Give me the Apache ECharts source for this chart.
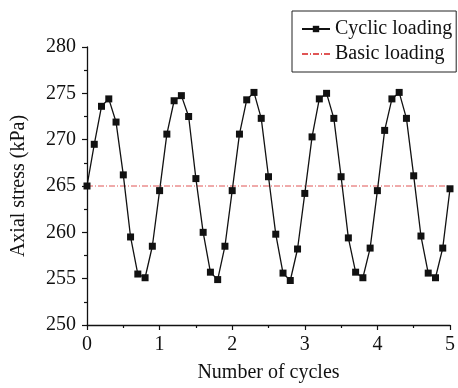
<!DOCTYPE html>
<html>
<head>
<meta charset="utf-8">
<script src="https://cdn.jsdelivr.net/npm/echarts@6/dist/echarts.min.js"></script>
<style>html,body{margin:0;padding:0;background:#fff;}#c{width:458px;height:388px;}</style>
</head>
<body>
<div id="c"></div>
<script>
var cycles = [0.0,0.1,0.2,0.3,0.4,0.5,0.6,0.7,0.8,0.9,
              1.0,1.1,1.2,1.3,1.4,1.5,1.6,1.7,1.8,1.9,
              2.0,2.1,2.2,2.3,2.4,2.5,2.6,2.7,2.8,2.9,
              3.0,3.1,3.2,3.3,3.4,3.5,3.6,3.7,3.8,3.9,
              4.0,4.1,4.2,4.3,4.4,4.5,4.6,4.7,4.8,4.9,5.0];
var cyclicStress = [265.0,269.5,273.6,274.4,271.9,266.2,259.5,255.5,255.1,258.5,
                    264.5,270.6,274.2,274.75,272.5,265.8,260.0,255.7,254.9,258.5,
                    264.5,270.6,274.3,275.1,272.3,266.0,259.8,255.6,254.8,258.2,
                    264.2,270.3,274.4,275.0,272.3,266.0,259.4,255.7,255.1,258.3,
                    264.5,271.0,274.4,275.1,272.3,266.1,259.6,255.6,255.1,258.3,264.7];
var basicX = [0, 5];
var basicStress = [265, 265];
var seriesNames = ['Cyclic loading', 'Basic loading'];
var xTitle = 'Number of cycles';
var yTitle = 'Axial stress (kPa)';

var font = 'Liberation Serif';
var chart = echarts.init(document.getElementById('c'), null, {renderer: 'canvas'});
chart.setOption({
  animation: false,
  backgroundColor: '#fff',
  grid: {left: 87, right: 6, top: 47, bottom: 61, containLabel: false},
  legend: {
    orient: 'vertical',
    left: 292, top: 11,
    padding: [8, 4, 8, 9],
    itemGap: 5,
    itemWidth: 28, itemHeight: 8,
    borderColor: '#222', borderWidth: 1,
    textStyle: {fontFamily: font, fontSize: 20, color: '#111'},
    data: [
      {name: seriesNames[0]},
      {name: seriesNames[1], itemStyle: {opacity: 0}}
    ]
  },
  xAxis: {
    type: 'value', min: 0, max: 5, interval: 1,
    name: xTitle, nameLocation: 'middle', nameGap: 38,
    nameTextStyle: {fontFamily: font, fontSize: 20, color: '#111'},
    axisLine: {show: true, onZero: false, lineStyle: {color: '#111', width: 1.3}},
    axisTick: {show: true, inside: false, length: 5, lineStyle: {color: '#111', width: 1.2}},
    minorTick: {show: true, splitNumber: 2, length: 3, lineStyle: {color: '#111', width: 1.2}},
    axisLabel: {fontFamily: font, fontSize: 20, color: '#111', margin: 10},
    splitLine: {show: false}
  },
  yAxis: {
    type: 'value', min: 250, max: 280, interval: 5,
    name: yTitle, nameLocation: 'middle', nameGap: 58,
    nameTextStyle: {fontFamily: font, fontSize: 20, color: '#111'},
    axisLine: {show: true, onZero: false, lineStyle: {color: '#111', width: 1.3}},
    axisTick: {show: true, inside: false, length: 5, lineStyle: {color: '#111', width: 1.2}},
    minorTick: {show: true, splitNumber: 2, length: 3, lineStyle: {color: '#111', width: 1.2}},
    axisLabel: {fontFamily: font, fontSize: 20, color: '#111', margin: 11},
    splitLine: {show: false}
  },
  series: [
    {
      name: seriesNames[0], type: 'line',
      data: cycles.map(function (c, i) { return [c, cyclicStress[i]]; }),
      symbol: 'rect', symbolSize: 7, showAllSymbol: true,
      itemStyle: {color: '#111'},
      lineStyle: {color: '#111', width: 1.3},
      clip: false, z: 3
    },
    {
      name: seriesNames[1], type: 'line',
      data: basicX.map(function (c, i) { return [c, basicStress[i]]; }),
      symbol: 'none',
      itemStyle: {color: '#e05555'},
      lineStyle: {color: '#e05555', width: 1, type: [6, 2, 1, 2]},
      z: 2
    }
  ]
});
</script>
</body>
</html>
